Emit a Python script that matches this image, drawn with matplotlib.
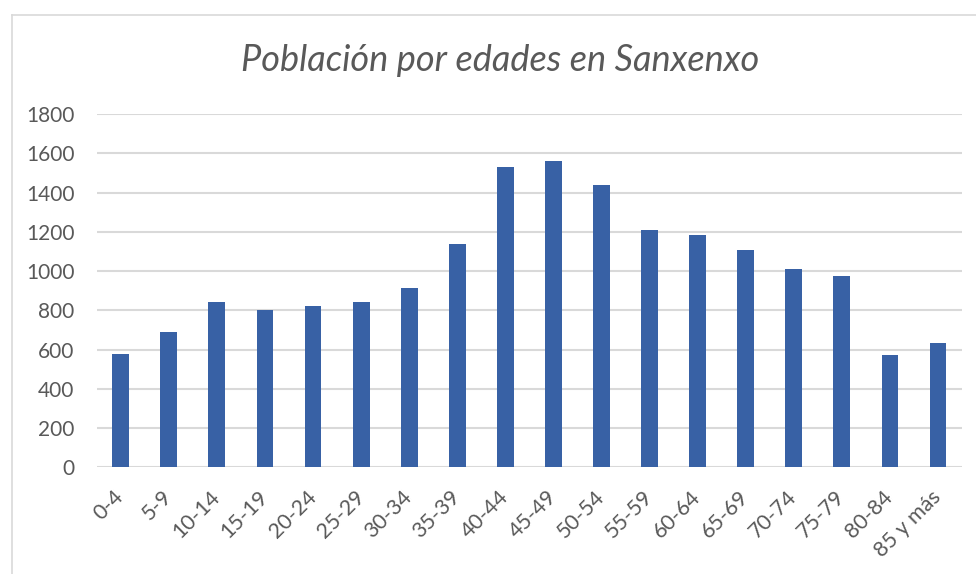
import matplotlib.pyplot as plt
from matplotlib.lines import Line2D

# Datos de población por grupos de edad (Sanxenxo)
grupos = ['0-4', '5-9', '10-14', '15-19', '20-24', '25-29', '30-34', '35-39',
          '40-44', '45-49', '50-54', '55-59', '60-64', '65-69', '70-74',
          '75-79', '80-84', '85 y más']
poblacion = [576, 688, 841, 801, 822, 841, 915, 1136,
             1532, 1561, 1438, 1209, 1184, 1109, 1010, 976, 571, 633]
ticks_y = [0, 200, 400, 600, 800, 1000, 1200, 1400, 1600, 1800]

gris = '#595959'
plt.rcParams['font.family'] = ['Lato', 'DejaVu Sans']

fig = plt.figure(figsize=(9.76, 5.74), dpi=100)
ax = fig.add_axes([0.0991, 0.1859, 0.8866, 0.6155])

x = range(len(grupos))
ax.bar(x, poblacion, width=0.35, color='#3861A5', zorder=3)

ax.set_xlim(-0.5, len(grupos) - 0.5)
ax.set_ylim(0, 1800)
ax.set_yticks(ticks_y)
ax.set_yticklabels([str(t) for t in ticks_y], color=gris, fontsize=15)
ax.set_xticks(list(x))
ax.set_xticklabels(grupos, rotation=45, ha='right', va='center',
                   rotation_mode='anchor', color=gris, fontsize=15.5)
ax.tick_params(axis='y', length=0, pad=16)
ax.tick_params(axis='x', length=0, pad=19)
ax.grid(axis='y', color='#D9D9D9', linewidth=1.5, zorder=0)
for s in ax.spines.values():
    s.set_visible(False)

fig.text(0.512, 0.895, 'Población por edades en Sanxenxo', ha='center', va='center',
         fontsize=26, style='italic', color=gris)

# marco del gráfico
fig.add_artist(Line2D([12 / 976, 12 / 976], [0, 1 - 15 / 574], color='#D9D9D9', lw=1.2))
fig.add_artist(Line2D([12 / 976, 1], [1 - 15 / 574, 1 - 15 / 574], color='#D9D9D9', lw=1.2))

fig.savefig('out.png', dpi=100)
